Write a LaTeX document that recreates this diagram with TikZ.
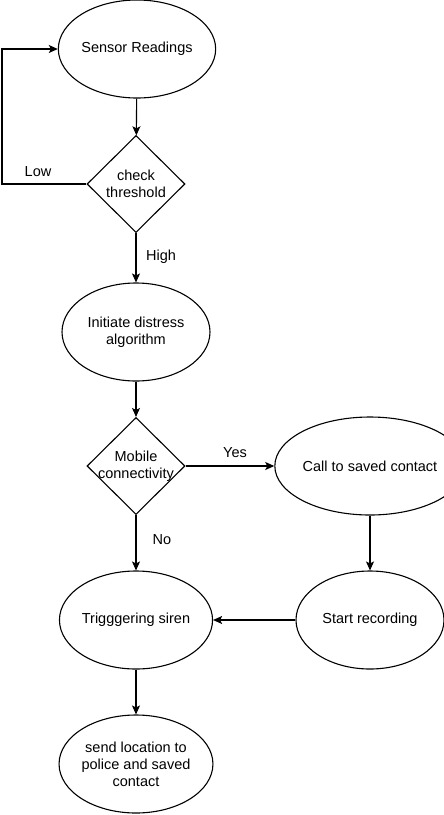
\documentclass[tikz,border=0pt]{standalone}
\usepackage{fontspec}
\setmainfont{Liberation Sans}
\usepackage{tikz}
\usetikzlibrary{shapes.geometric, arrows.meta}

\tikzset{
  flowell/.style={draw, ellipse, line width=1.1pt, inner sep=0pt,
    minimum width=148pt, minimum height=98pt, align=center},
  flowdia/.style={draw, diamond, line width=1.1pt, inner sep=-8pt,
    minimum width=98pt, minimum height=97pt, align=center},
  flowarrow/.style={line width=1.1pt, -{Stealth[length=9pt, width=8pt, inset=2pt]}},
  flowlabel/.style={inner sep=0pt}
}

\begin{document}
\begin{tikzpicture}[x=1pt, y=-1pt, font=\fontsize{14.5}{17}\selectfont]
\useasboundingbox (0,0) rectangle (444,815);

% --- Left column ---
\node[flowell] (sensor) at (137,49) {Sensor Readings};
\node[flowdia] (check) at (136,184) {check\\threshold};
\node[flowell] (distress) at (136,332) {Initiate distress\\algorithm};
\node[flowdia] (mobile) at (136,466) {Mobile\\connectivity};
\node[flowell] (siren) at (136,620) {Trigggering siren};
\node[flowell] (send) at (136,764) {send location to\\police and saved\\contact};

% --- Right column ---
\node[flowell] (call) at (370,466) {Call to saved contact};
\node[flowell] (record) at (370,620) {Start recording};

% --- Connectors ---
\coordinate (loop) at (2,184);
\draw[flowarrow] (sensor) -- (check);
\draw[flowarrow] (check.west) -- (loop) |- (sensor.west);
\draw[flowarrow] (check) -- (distress);
\draw[flowarrow] (distress) -- (mobile);
\draw[flowarrow] (mobile) -- (call);
\draw[flowarrow] (mobile) -- (siren);
\draw[flowarrow] (call) -- (record);
\draw[flowarrow] (record) -- (siren);
\draw[flowarrow] (siren) -- (send);

% --- Branch labels ---
\node[flowlabel] (low) at (38,172) {Low};
\node[flowlabel] (high) at (161,257) {High};
\node[flowlabel] (yes) at (235,453) {Yes};
\node[flowlabel] (no) at (162,540) {No};
\end{tikzpicture}
\end{document}
